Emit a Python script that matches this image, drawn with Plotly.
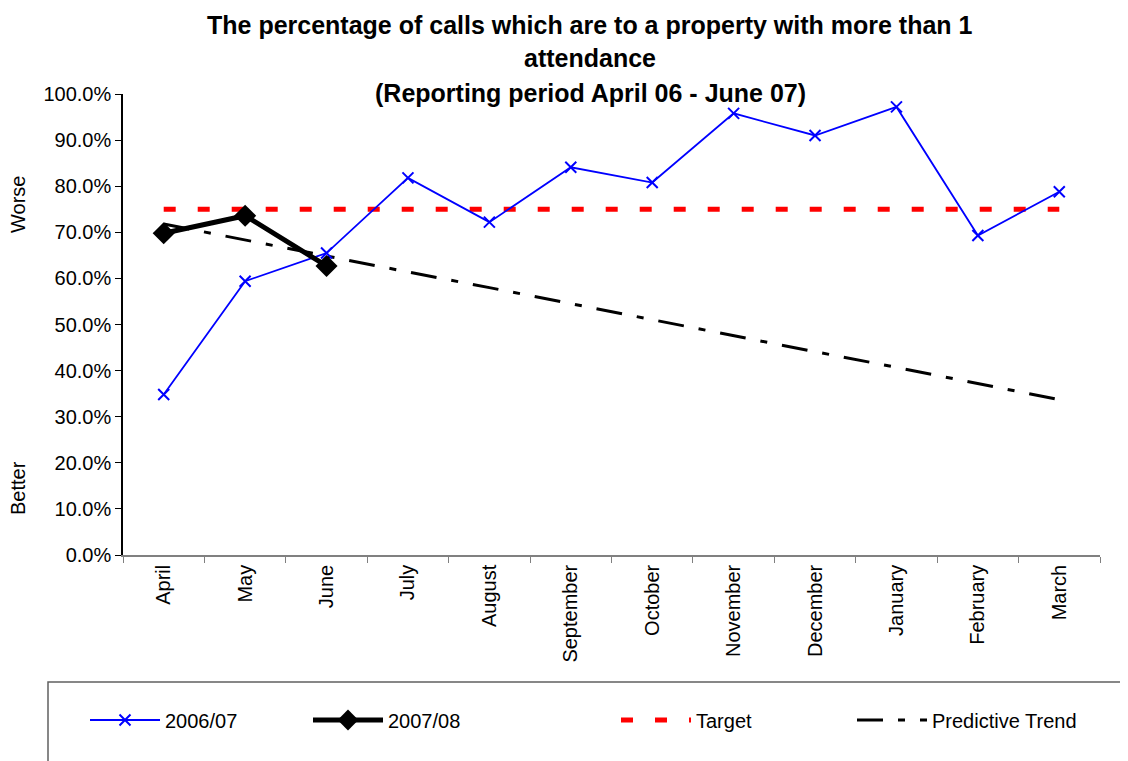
import plotly.graph_objects as go

months = ["April", "May", "June", "July", "August", "September", "October",
          "November", "December", "January", "February", "March"]
y_2006_07 = [34.8, 59.4, 65.5, 81.8, 72.2, 84.1, 80.8, 95.8, 91.0, 97.2, 69.3, 78.8]
y_2007_08 = [69.8, 73.6, 62.7]
target = [75.0] * 12
trend = [71.8, 68.3, 64.9, 61.4, 58.0, 54.5, 51.0, 47.6, 44.1, 40.7, 37.2, 33.7]

W, H = 1128, 761
O = 8  # page body margin
L, R, T, B = 123, 1100, 94, 555   # absolute pixel positions of the plot area
pw, ph = R - L, B - T

def px(x):
    return (x - L) / pw

def py(y):
    return (B - y) / ph

FONT = "Liberation Sans, Arial, sans-serif"

fig = go.Figure()
fig.add_trace(go.Scatter(
    x=months, y=[v / 100 for v in target], name="Target", mode="lines",
    line=dict(color="#FF0000", width=5, dash="12px,22px"), legend="legend3"))
fig.add_trace(go.Scatter(
    x=months, y=[v / 100 for v in trend], name="Predictive Trend", mode="lines",
    line=dict(color="#000000", width=3, dash="26px,15px,7px,15px"), legend="legend4"))
fig.add_trace(go.Scatter(
    x=months, y=[v / 100 for v in y_2006_07], name="2006/07", mode="lines+markers",
    line=dict(color="#0000FF", width=1.8),
    marker=dict(symbol="x-thin", size=11, line=dict(color="#0000FF", width=2)),
    legend="legend"))
fig.add_trace(go.Scatter(
    x=months[:len(y_2007_08)], y=[v / 100 for v in y_2007_08], name="2007/08",
    mode="lines+markers",
    line=dict(color="#000000", width=5),
    marker=dict(symbol="diamond", size=17, color="#000000"),
    legend="legend2"))

title_lines = [
    ("The percentage of calls which are to a property with more than 1", 25),
    ("attendance", 58),
    ("(Reporting period April 06 - June 07)", 93),
]
annotations = []
for txt, yc in title_lines:
    annotations.append(dict(
        text=f"<b>{txt}</b>", x=px(590), y=py(yc), xref="paper", yref="paper",
        xanchor="center", yanchor="middle", showarrow=False, borderpad=0,
        font=dict(family=FONT, size=25, color="#000000")))
for txt, yc in [("Worse", 205), ("Better", 488)]:
    annotations.append(dict(
        text=txt, x=px(18), y=py(yc), xref="paper", yref="paper",
        xanchor="center", yanchor="middle", showarrow=False, textangle=-90,
        font=dict(family=FONT, size=20, color="#000000")))

def leg(sym_start):
    return dict(
        orientation="h", x=px(sym_start - 6), y=py(720), xanchor="left", yanchor="middle",
        font=dict(family=FONT, size=20, color="#000000"), itemwidth=70,
        bgcolor="rgba(0,0,0,0)", borderwidth=0)

fig.update_layout(
    width=W - O, height=H - O,
    margin=dict(l=L - O, r=W - R, t=T - O, b=H - B, pad=0),
    paper_bgcolor="white", plot_bgcolor="white",
    font=dict(family=FONT, size=20, color="#000000"),
    showlegend=True,
    legend=leg(91), legend2=leg(314), legend3=leg(622), legend4=leg(858),
    annotations=annotations,
    shapes=[dict(type="rect", xref="paper", yref="paper",
                 x0=px(48), x1=px(1140), y0=py(682), y1=py(790),
                 line=dict(color="#606060", width=1.5), fillcolor="rgba(0,0,0,0)")],
    xaxis=dict(
        type="category", categoryorder="array", categoryarray=months,
        range=[-0.5, 11.5], showgrid=False, zeroline=False,
        showline=True, linecolor="#808080", linewidth=1.5,
        ticks="outside", ticklen=6, tickcolor="#808080", tickson="boundaries",
        tickangle=-90, tickfont=dict(family=FONT, size=20, color="#000000")),
    yaxis=dict(
        range=[0, 1], dtick=0.1, tickformat=".1%", showgrid=False, zeroline=False,
        showline=True, linecolor="#000000", linewidth=1.5,
        ticks="outside", ticklen=6, tickcolor="#000000",
        tickfont=dict(family=FONT, size=20, color="#000000")),
)

fig.write_html("out.html")
